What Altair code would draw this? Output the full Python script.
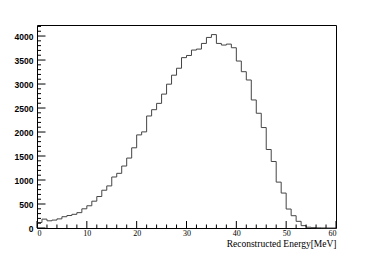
import altair as alt
import pandas as pd

# bin counts, 1 MeV bins from 0 to 60
counts = [115, 185, 150, 165, 190, 235, 260, 285, 320, 400,
          463, 559, 656, 787, 877, 1063, 1139, 1291, 1457, 1671,
          1940, 2003, 2334, 2465, 2597, 2790, 2997, 3184, 3329, 3550,
          3595, 3708, 3728, 3846, 3971, 4030, 3846, 3812, 3832, 3756,
          3479, 3257, 3084, 2668, 2391, 2093, 1636, 1386, 956, 728,
          395, 256, 139, 49, 16, 7, 3, 1, 0, 0]
x_major = [0, 10, 20, 30, 40, 50, 60]
x_minor = [v for v in range(0, 61, 2) if v % 10 != 0]
y_major = [0, 500, 1000, 1500, 2000, 2500, 3000, 3500, 4000]
y_minor = [v for v in range(0, 4201, 100) if v % 500 != 0]

edges = list(range(len(counts) + 1))
vals = counts + [counts[-1]]
hist = pd.DataFrame({"e": edges, "n": vals})

W, H = 299, 203
xs = alt.Scale(domain=[0, 60], nice=False, zero=False)
ys = alt.Scale(domain=[0, 4230], nice=False)
XT = "Reconstructed Energy[MeV]"

xaxis = alt.Axis(values=x_major, ticks=False, domain=False, grid=False,
                 labelFont="Liberation Serif", labelFontSize=8, labelColor="#000",
                 labelPadding=1, format="d",
                 title=XT, titleAnchor="end",
                 titleFont="Liberation Serif", titleFontSize=9.5, titleFontWeight="normal",
                 titleColor="#000", titlePadding=1)
yaxis = alt.Axis(values=y_major, ticks=False, domain=False, grid=False,
                 labelFont="Liberation Sans", labelFontSize=8.5, labelFontWeight="bold",
                 labelColor="#000", labelPadding=4, format="d", title="")

line = alt.Chart(hist).mark_line(interpolate="step-after", color="#444", strokeWidth=1).encode(
    x=alt.X("e:Q", scale=xs, axis=xaxis, title=XT),
    y=alt.Y("n:Q", scale=ys, axis=yaxis, title=""),
)

yM = alt.Chart(pd.DataFrame({"v": y_major})).mark_rule(color="#000", strokeWidth=1).encode(
    y=alt.Y("v:Q", scale=ys, axis=yaxis, title=""), x=alt.value(0), x2=alt.value(8.5))
ym = alt.Chart(pd.DataFrame({"v": y_minor})).mark_rule(color="#000", strokeWidth=1).encode(
    y=alt.Y("v:Q", scale=ys, axis=yaxis, title=""), x=alt.value(0), x2=alt.value(4))
xM = alt.Chart(pd.DataFrame({"v": x_major})).mark_rule(color="#000", strokeWidth=1).encode(
    x=alt.X("v:Q", scale=xs, axis=xaxis, title=XT), y=alt.value(H), y2=alt.value(H - 7))
xm = alt.Chart(pd.DataFrame({"v": x_minor})).mark_rule(color="#000", strokeWidth=1).encode(
    x=alt.X("v:Q", scale=xs, axis=xaxis, title=XT), y=alt.value(H), y2=alt.value(H - 3.5))

chart = alt.layer(line, yM, ym, xM, xm).properties(
    width=W, height=H,
    autosize=alt.AutoSizeParams(type="none"),
    padding={"left": 29, "top": 17, "right": 30, "bottom": 26},
    background="white",
).configure_view(stroke="#000", strokeWidth=1)

chart.save("out.html", embed_options={"renderer": "svg", "actions": False})
